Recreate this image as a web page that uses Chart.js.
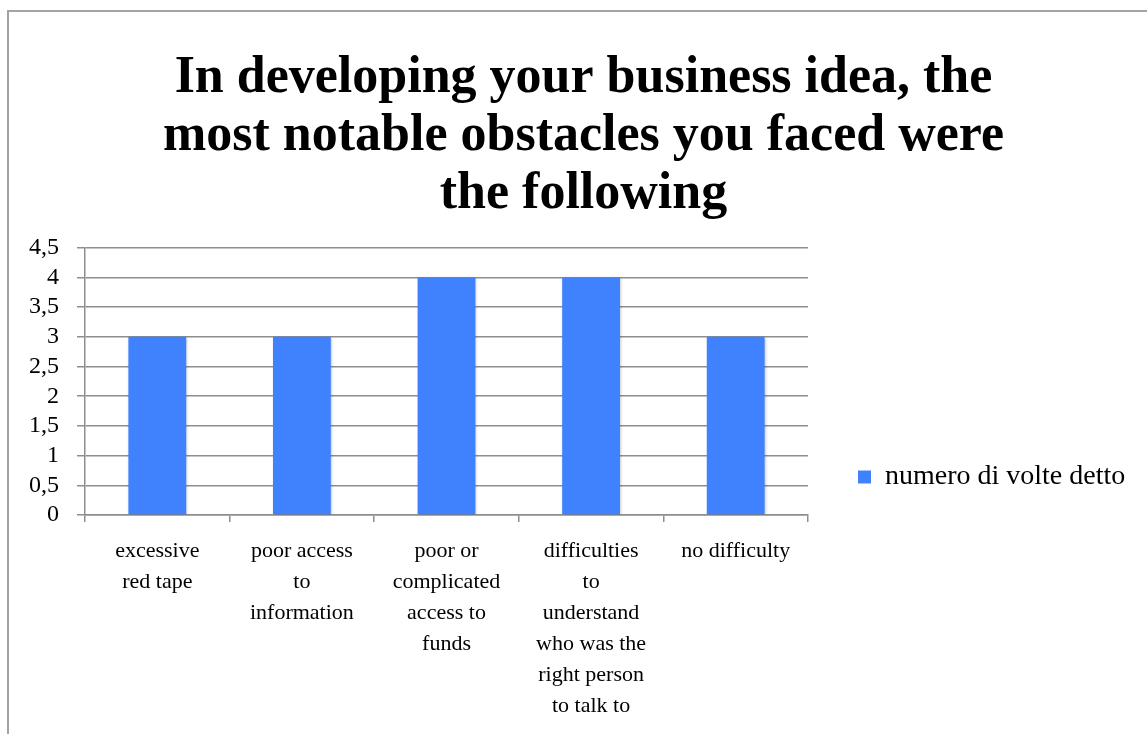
<!DOCTYPE html>
<html>
<head>
<meta charset="utf-8">
<script src="https://cdn.jsdelivr.net/npm/chart.js@4.4.1/dist/chart.umd.min.js"></script>
<style>
  html, body { margin: 0; padding: 0; background: #fff; }
  #frame { position: absolute; left: 7px; top: 10px; width: 1160px; height: 740px; border: 2px solid #a3a3a3; box-sizing: border-box; }
  #wrap { position: absolute; left: 0; top: 0; width: 1147px; height: 734px; }
</style>
</head>
<body>
<div id="frame"></div>
<div id="wrap"><canvas id="c" width="1147" height="734"></canvas></div>
<script>
// Survey answers: how many times each obstacle was named
const categories = [
  ["excessive", "red tape"],
  ["poor access", "to", "information"],
  ["poor or", "complicated", "access to", "funds"],
  ["difficulties", "to", "understand", "who was the", "right person", "to talk to"],
  ["no difficulty"]
];
const seriesName = "numero di volte detto";
const counts = [3, 3, 4, 4, 3];
const yTicks = [0, 0.5, 1, 1.5, 2, 2.5, 3, 3.5, 4, 4.5];
const titleLines = [
  "In developing your business idea, the",
  "most notable obstacles you faced were",
  "the following"
];

const FONT = "'Liberation Serif', 'DejaVu Serif', serif";
const GRID = "#8e8e8e";
const LEGEND_WIDTH = 339;
const LEGEND_TOP = 220;

// Soft drop shadow under the bars
const barShadow = {
  id: "barShadow",
  beforeDatasetsDraw(chart) {
    const ctx = chart.ctx;
    ctx.save();
    ctx.shadowColor = "rgba(0,0,0,0.28)";
    ctx.shadowBlur = 3;
    ctx.shadowOffsetX = 1;
    ctx.shadowOffsetY = 1;
  },
  afterDatasetsDraw(chart) { chart.ctx.restore(); }
};

// Right-hand legend column: fixed width, centred on the area below the title
const legendBox = {
  id: "legendBox",
  afterInit(chart) {
    const lg = chart.legend;
    if (!lg) return;
    const fit = lg.fit.bind(lg);
    lg.fit = function () {
      fit();
      this.width = LEGEND_WIDTH;
      this.right = this.left + LEGEND_WIDTH;
    };
  },
  afterLayout(chart) {
    const lg = chart.legend;
    if (!lg) return;
    lg.top = LEGEND_TOP;
    lg.height = lg.bottom - lg.top;
  }
};

const fmt = v => String(v).replace(".", ",");

new Chart(document.getElementById("c"), {
  type: "bar",
  data: {
    labels: categories,
    datasets: [{
      label: seriesName,
      data: counts,
      backgroundColor: "#4081fd",
      borderWidth: 0,
      categoryPercentage: 1,
      barPercentage: 0.4
    }]
  },
  options: {
    responsive: false,
    animation: false,
    layout: { padding: { left: 20, right: 0, top: 0, bottom: 0 } },
    plugins: {
      title: {
        display: true,
        text: titleLines,
        color: "#000",
        font: { family: FONT, size: 52, weight: "bold", lineHeight: 1.12 },
        padding: { top: 49, bottom: 24 }
      },
      legend: {
        position: "right",
        labels: {
          color: "#000",
          font: { family: FONT, size: 28 },
          boxWidth: 13,
          boxHeight: 13,
          padding: 50
        }
      },
      tooltip: { enabled: false }
    },
    scales: {
      x: {
        afterFit: s => { s.height = 219; },
        grid: { display: true, drawOnChartArea: false, color: GRID, lineWidth: 1.5, tickLength: 7, offset: true },
        border: { color: GRID, width: 1.5 },
        ticks: { color: "#000", font: { family: FONT, size: 22, lineHeight: 1.41 }, maxRotation: 0, autoSkip: false, padding: 14 }
      },
      y: {
        min: 0, max: 4.5,
        afterBuildTicks: s => { s.ticks = yTicks.map(v => ({ value: v })); },
        afterFit: s => { s.width = 65; },
        grid: { color: GRID, lineWidth: 1.5, tickLength: 8 },
        border: { color: GRID, width: 1.5 },
        ticks: { color: "#000", font: { family: FONT, size: 24 }, padding: 18, autoSkip: false, callback: v => fmt(v) }
      }
    }
  },
  plugins: [barShadow, legendBox]
});
</script>
</body>
</html>
